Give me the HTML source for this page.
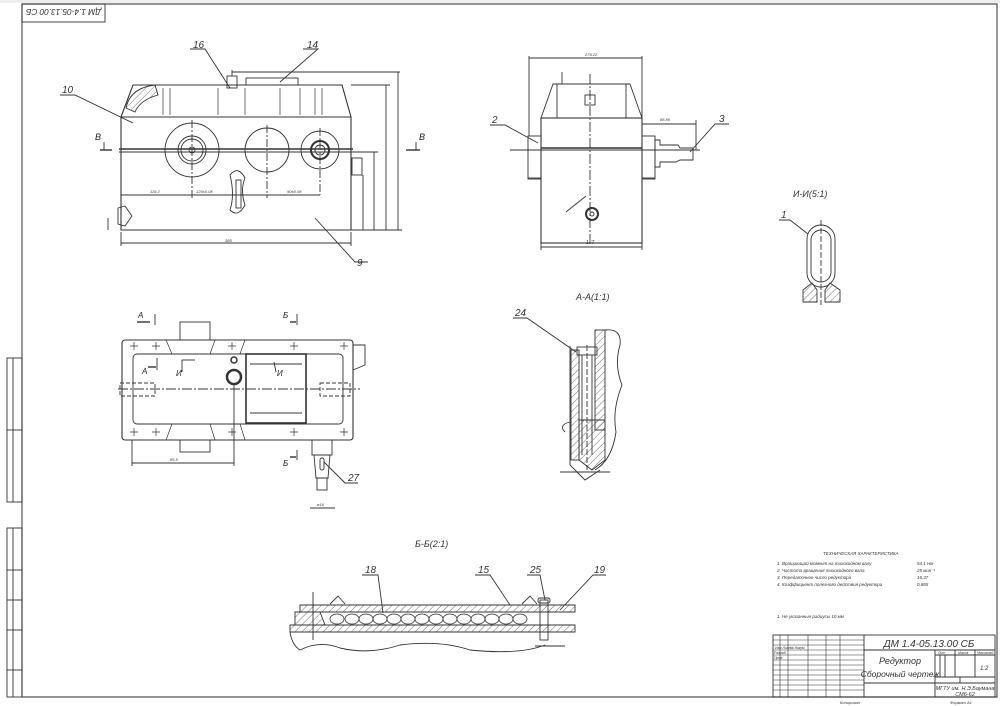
<!DOCTYPE html>
<html><head><meta charset="utf-8"><style>
html,body{margin:0;padding:0;background:#fff;}
svg{display:block;font-family:"Liberation Sans","DejaVu Sans",sans-serif;}
.t{font-style:italic;fill:#333;}
</style></head><body>
<svg width="1000" height="706" viewBox="0 0 1000 706" xmlns="http://www.w3.org/2000/svg">
<defs>
<pattern id="h" width="5" height="5" patternUnits="userSpaceOnUse" patternTransform="rotate(45)"><line x1="0" y1="0" x2="0" y2="5" stroke="#333" stroke-width="0.7"/></pattern>
</defs>
<g fill="none" stroke="#333" stroke-width="0.9">
<rect x="0" y="0" width="1000" height="3" fill="#eee" stroke="none"/>
<polyline points="22,697 22,4 997,4 997,697 22,697" stroke="#555" stroke-width="1.2"/>
<rect x="22" y="4" width="83" height="18"/>
<rect x="7" y="358" width="15" height="144"/><line x1="13" y1="358" x2="13" y2="502"/><line x1="7" y1="430" x2="22" y2="430"/>
<rect x="7" y="528" width="15" height="169"/><line x1="13" y1="528" x2="13" y2="697"/>
<line x1="7" y1="570" x2="22" y2="570"/><line x1="7" y1="600" x2="22" y2="600"/><line x1="7" y1="630" x2="22" y2="630"/><line x1="7" y1="670" x2="22" y2="670"/>

<path d="M133,85 L342,85 L351,117 L351,230 L121,230 L121,117 Z" stroke-width="1.1"/>
<line x1="121" y1="117" x2="351" y2="117"/>
<line x1="119" y1="149" x2="353" y2="149" stroke-width="1.4"/>
<line x1="119" y1="152" x2="353" y2="152"/>
<g stroke-width="0.7"><line x1="163" y1="88" x2="163" y2="115"/><line x1="170" y1="88" x2="170" y2="115"/>
<line x1="218" y1="88" x2="218" y2="115"/><line x1="245" y1="88" x2="245" y2="115"/>
<line x1="280" y1="88" x2="280" y2="115"/><line x1="300" y1="88" x2="300" y2="115"/>
<line x1="315" y1="88" x2="315" y2="115"/><line x1="322" y1="88" x2="322" y2="115"/></g>
<rect x="246" y="78" width="52" height="7"/>
<path d="M126,108 Q130,88 155,85 L158,95 Q140,100 135,112 Z" fill="url(#h)"/>
<circle cx="192" cy="150" r="27"/><circle cx="192" cy="150" r="14"/><circle cx="192" cy="150" r="11"/><circle cx="192" cy="150" r="3"/>
<circle cx="267" cy="150" r="22"/>
<circle cx="320" cy="150" r="19"/><circle cx="320" cy="150" r="9" stroke-width="2"/><circle cx="320" cy="150" r="5"/>
<line x1="192" y1="120" x2="192" y2="198" stroke-dasharray="8,2,2,2"/><line x1="267" y1="125" x2="267" y2="198" stroke-dasharray="8,2,2,2"/><line x1="320" y1="128" x2="320" y2="195" stroke-dasharray="8,2,2,2"/>
<path d="M230,175 Q238,165 245,178 Q240,190 245,205 Q238,218 230,210 Q235,195 230,175 Z"/>
<rect x="236" y="180" width="5" height="28"/>
<rect x="227" y="76" width="10" height="12"/><line x1="232" y1="70" x2="232" y2="76"/><line x1="232" y1="72" x2="400" y2="72"/>
<path d="M118,208 L125,206 L132,216 L125,226 L118,224 Z"/>
<rect x="352" y="158" width="10" height="17"/>
<line x1="121" y1="195" x2="320" y2="195"/><line x1="121" y1="243" x2="351" y2="243"/>
<line x1="121" y1="232" x2="121" y2="246"/><line x1="351" y1="232" x2="351" y2="246"/>
<line x1="351" y1="85" x2="390" y2="85"/><line x1="351" y1="230" x2="402" y2="230"/>
<line x1="398" y1="72" x2="398" y2="230"/><line x1="386" y1="85" x2="386" y2="230"/>
<line x1="374" y1="152" x2="374" y2="230"/><line x1="363" y1="175" x2="363" y2="230"/>
<line x1="353" y1="152" x2="378" y2="152"/>
<line x1="108" y1="218" x2="108" y2="230"/>
<line x1="100" y1="150" x2="112" y2="150" stroke-width="1.4"/><line x1="104" y1="142" x2="104" y2="150"/>
<line x1="406" y1="150" x2="420" y2="150" stroke-width="1.4"/><line x1="416" y1="142" x2="416" y2="150"/>
<polyline points="60,95 75,95 133,123"/><polyline points="190,49 205,49 230,88"/><polyline points="303,49 318,49 280,82"/><polyline points="315,218 355,262 368,262"/>

<path d="M541,118 L553,84 L630,84 L642,118 Z"/>
<line x1="557" y1="84" x2="557" y2="118"/><line x1="626" y1="84" x2="626" y2="118"/>
<rect x="541" y="118" width="101" height="125" stroke-width="1.1"/>
<line x1="541" y1="148" x2="642" y2="148" stroke-width="1.4"/><line x1="510" y1="150" x2="700" y2="150"/>
<line x1="590" y1="74" x2="590" y2="240" stroke-dasharray="10,2,2,2"/>
<rect x="585" y="95" width="10" height="10"/><line x1="562" y1="72" x2="562" y2="84"/>
<rect x="528" y="136" width="13" height="43"/><rect x="642" y="136" width="13" height="43"/>
<path d="M655,140 L660,140 L660,145 L678,145 L680,148 L693,148 L693,160 L680,160 L676,162 L660,162 L660,167 L655,167 Z"/>
<circle cx="592" cy="214" r="6" stroke-width="2"/><circle cx="592" cy="214" r="2"/>
<line x1="529" y1="58" x2="642" y2="58"/><line x1="529" y1="56" x2="529" y2="136"/><line x1="642" y1="56" x2="642" y2="150"/>
<line x1="642" y1="124" x2="696" y2="124"/><line x1="696" y1="120" x2="696" y2="150"/>
<line x1="541" y1="243" x2="541" y2="250"/><line x1="642" y1="243" x2="642" y2="250"/><line x1="541" y1="247" x2="642" y2="247"/>
<line x1="528" y1="178" x2="541" y2="178"/><line x1="642" y1="178" x2="655" y2="178"/>
<polyline points="490,125 505,125 538,143"/><polyline points="729,124 715,124 690,152"/>
<line x1="566" y1="212" x2="586" y2="196"/>

<rect x="807" y="225" width="28" height="62" rx="14"/><rect x="811" y="230" width="20" height="52" rx="10"/>
<line x1="821" y1="220" x2="821" y2="305" stroke-dasharray="6,2"/>
<path d="M803,290 L812,283 L817,290 L817,302 L803,302 Z" fill="url(#h)"/><path d="M825,290 L830,283 L840,290 L840,302 L825,302 Z" fill="url(#h)"/>
<polyline points="779,220 790,220 808,234"/>

<rect x="122" y="340" width="231" height="100" rx="3" stroke-width="1.1"/>
<rect x="133" y="354" width="210" height="70" rx="4"/>
<rect x="246" y="354" width="60" height="69" stroke-width="1.6"/>
<line x1="250" y1="364" x2="302" y2="364"/><line x1="250" y1="413" x2="302" y2="413"/>
<rect x="180" y="322" width="30" height="18"/><rect x="180" y="440" width="30" height="12"/>
<rect x="312" y="440" width="20" height="15"/><path d="M314,455 L330,455 L328,478 L316,478 Z"/><rect x="317" y="478" width="10" height="12"/>
<rect x="320" y="458" width="4" height="12" rx="2"/>
<circle cx="234" cy="377" r="7" stroke-width="2.5"/><circle cx="234" cy="360" r="3" stroke-width="1.5"/>
<line x1="118" y1="389" x2="360" y2="389" stroke-dasharray="10,2,2,2"/>
<rect x="120" y="383" width="35" height="13" stroke-dasharray="4,2"/><rect x="320" y="383" width="30" height="13" stroke-dasharray="4,2"/>
<g stroke-width="0.7">
<path d="M130,346h8M134,342v8M152,346h8M156,342v8M228,346h8M232,342v8M290,346h8M294,342v8M340,346h8M344,342v8"/>
<path d="M130,432h8M134,428v8M152,432h8M156,428v8M228,432h8M232,428v8M290,432h8M294,428v8M340,432h8M344,428v8"/>
<line x1="166" y1="340" x2="172" y2="354"/><line x1="215" y1="340" x2="210" y2="354"/><line x1="245" y1="340" x2="240" y2="354"/>
<line x1="166" y1="440" x2="172" y2="424"/><line x1="215" y1="440" x2="210" y2="424"/><line x1="245" y1="440" x2="240" y2="424"/>
</g>
<path d="M353,345 L365,345 L365,365 L353,370"/>
<line x1="132" y1="463" x2="234" y2="463"/><line x1="132" y1="440" x2="132" y2="466"/><line x1="234" y1="384" x2="234" y2="466"/>
<line x1="310" y1="508" x2="335" y2="508"/>
<polyline points="324,462 345,483 358,483"/>
<line x1="137" y1="322" x2="150" y2="322" stroke-width="1.4"/><line x1="155" y1="314" x2="155" y2="325"/>
<line x1="290" y1="322" x2="296" y2="322" stroke-width="1.4"/><line x1="297" y1="314" x2="297" y2="325"/>
<line x1="290" y1="457" x2="296" y2="457" stroke-width="1.4"/><line x1="297" y1="450" x2="297" y2="460"/>
<line x1="148" y1="367" x2="156" y2="367" stroke-width="1.4"/><line x1="157" y1="358" x2="157" y2="370"/>
<line x1="182" y1="360" x2="195" y2="360"/><line x1="182" y1="360" x2="182" y2="372"/>
<line x1="274" y1="362" x2="276" y2="372"/>

<path d="M570,346 L570,465 L585,480 L600,470"/>
<rect x="571" y="350" width="8" height="110" fill="url(#h)"/>
<rect x="595" y="330" width="10" height="100" fill="url(#h)"/>
<path d="M579,420 L605,420 L605,460 L592,470 L579,460 Z" fill="url(#h)"/>
<rect x="577" y="347" width="20" height="8"/><line x1="582" y1="355" x2="582" y2="455"/><line x1="592" y1="355" x2="592" y2="455"/>
<line x1="587" y1="345" x2="587" y2="470" stroke-dasharray="6,2"/>
<path d="M605,330 Q622,328 620,345 Q614,365 622,385 Q612,410 616,432 Q612,460 595,470"/>
<path d="M570,422 Q558,425 565,432"/>
<polyline points="513,318 527,318 576,352"/>
<line x1="560" y1="472" x2="610" y2="472"/>

<path d="M300,605 L575,605 L575,612 L300,612 Z" fill="url(#h)"/>
<path d="M295,612 L320,612 L325,625 L295,625 Z" fill="url(#h)"/>
<path d="M290,625 L575,625 L575,632 L290,632 Z" fill="url(#h)"/>
<path d="M330,604 L338,596 L345,604" /><path d="M522,604 L530,596 L537,604"/>
<rect x="540" y="600" width="8" height="40"/><rect x="538" y="598" width="12" height="5" rx="2"/>
<path d="M290,632 Q292,645 300,650 Q320,640 340,648 Q370,655 400,645 Q440,640 470,650 Q520,655 545,645"/>
<line x1="313" y1="592" x2="313" y2="640"/>
<line x1="535" y1="646" x2="565" y2="646"/>
<g stroke-width="0.8">
<ellipse cx="337" cy="619" rx="7" ry="5"/><ellipse cx="352" cy="619" rx="7" ry="5"/><ellipse cx="366" cy="619" rx="7" ry="5"/><ellipse cx="380" cy="619" rx="7" ry="5"/><ellipse cx="394" cy="619" rx="7" ry="5"/><ellipse cx="408" cy="619" rx="7" ry="5"/><ellipse cx="422" cy="619" rx="7" ry="5"/><ellipse cx="436" cy="619" rx="7" ry="5"/><ellipse cx="450" cy="619" rx="7" ry="5"/><ellipse cx="464" cy="619" rx="7" ry="5"/><ellipse cx="478" cy="619" rx="7" ry="5"/><ellipse cx="492" cy="619" rx="7" ry="5"/><ellipse cx="506" cy="619" rx="7" ry="5"/><ellipse cx="520" cy="619" rx="7" ry="5"/>
</g>
<polyline points="362,575 378,575 383,613"/><polyline points="475,575 490,575 510,605"/><polyline points="527,575 540,575 545,600"/><polyline points="606,575 593,575 560,610"/>

<rect x="773" y="635" width="222" height="62"/>
<line x1="864" y1="650" x2="995" y2="650"/><line x1="864" y1="635" x2="864" y2="697"/>
<g stroke-width="0.6">
<line x1="773" y1="640" x2="864" y2="640"/><line x1="773" y1="645" x2="864" y2="645"/><line x1="773" y1="650" x2="864" y2="650"/><line x1="773" y1="655" x2="864" y2="655"/><line x1="773" y1="660" x2="864" y2="660"/><line x1="773" y1="665" x2="864" y2="665"/><line x1="773" y1="670" x2="864" y2="670"/><line x1="773" y1="675" x2="864" y2="675"/><line x1="773" y1="680" x2="864" y2="680"/><line x1="773" y1="685" x2="864" y2="685"/><line x1="773" y1="690" x2="864" y2="690"/>
<line x1="780" y1="635" x2="780" y2="697"/><line x1="788" y1="635" x2="788" y2="697"/><line x1="808" y1="635" x2="808" y2="697"/><line x1="826" y1="635" x2="826" y2="697"/><line x1="840" y1="635" x2="840" y2="697"/>
</g>
<line x1="935" y1="650" x2="935" y2="697"/><line x1="864" y1="683" x2="995" y2="683"/>
<line x1="935" y1="655" x2="995" y2="655"/><line x1="955" y1="650" x2="955" y2="677"/><line x1="975" y1="650" x2="975" y2="677"/>
<line x1="935" y1="677" x2="995" y2="677"/><line x1="960" y1="677" x2="960" y2="683"/>
<line x1="940" y1="655" x2="940" y2="677"/><line x1="945" y1="655" x2="945" y2="677"/>
</g>
<g class="t">
<text x="26" y="17" font-size="8" textLength="75" lengthAdjust="spacingAndGlyphs" transform="rotate(180 63.5 13)">ДМ 1.4-05.13.00 СБ</text>
<text x="193" y="48" font-size="10">16</text><text x="307" y="48" font-size="10">14</text>
<text x="62" y="93" font-size="10">10</text><text x="357" y="266" font-size="10">9</text>
<text x="95" y="140" font-size="9" fill="#222">В</text><text x="419" y="140" font-size="9" fill="#222">В</text>
<text x="492" y="123" font-size="10">2</text><text x="719" y="122" font-size="10">3</text>
<text x="781" y="218" font-size="10">1</text><text x="793" y="197" font-size="9">И-И(5:1)</text>
<text x="576" y="300" font-size="9">А-А(1:1)</text><text x="515" y="316" font-size="10">24</text>
<text x="415" y="547" font-size="9">Б-Б(2:1)</text>
<text x="365" y="573" font-size="10">18</text><text x="478" y="573" font-size="10">15</text><text x="530" y="573" font-size="10">25</text><text x="594" y="573" font-size="10">19</text>
<text x="348" y="481" font-size="10">27</text>
<text x="138" y="318" font-size="8" fill="#222">А</text><text x="283" y="318" font-size="8" fill="#222">Б</text><text x="283" y="466" font-size="8" fill="#222">Б</text>
<text x="142" y="374" font-size="8" fill="#222">А</text><text x="176" y="376" font-size="8" fill="#222">И</text><text x="277" y="376" font-size="8" fill="#222">И</text>
<text x="585" y="56" font-size="4">279.22</text><text x="660" y="121" font-size="4">88.86</text><text x="586" y="244" font-size="5">167</text>
<text x="225" y="242" font-size="4">385</text><text x="150" y="193" font-size="4">119.2</text><text x="196" y="193" font-size="4">125±0.08</text><text x="287" y="193" font-size="4">90±0.08</text>
<text x="170" y="461" font-size="4">85.5</text><text x="317" y="506" font-size="4">ø16</text>
<text x="823" y="555" font-size="4.5">ТЕХНИЧЕСКАЯ ХАРАКТЕРИСТИКА</text>
<text x="777" y="565" font-size="4.5">1. Вращающий момент на тихоходном валу</text><text x="917" y="565" font-size="4.5">54.1 Нм</text>
<text x="777" y="572" font-size="4.5">2. Частота вращения тихоходного вала</text><text x="917" y="572" font-size="4.5">25 мин⁻¹</text>
<text x="777" y="579" font-size="4.5">3. Передаточное число редуктора</text><text x="917" y="579" font-size="4.5">16,37</text>
<text x="777" y="586" font-size="4.5">4. Коэффициент полезного действия редуктора</text><text x="917" y="586" font-size="4.5">0,885</text>
<text x="777" y="618" font-size="4.5">1. Не указанные радиусы 10 мм</text>
<text x="929" y="647" font-size="10" text-anchor="middle">ДМ 1.4-05.13.00 СБ</text>
<text x="900" y="664" font-size="9" text-anchor="middle">Редуктор</text><text x="900" y="677" font-size="8.5" text-anchor="middle">Сборочный чертеж</text>
<text x="980" y="670" font-size="6">1:2</text>
<text x="965" y="690" font-size="5.5" text-anchor="middle">МГТУ им. Н.Э.Баумана</text><text x="965" y="696" font-size="5.5" text-anchor="middle">СМ6-62</text>
<text x="775" y="649" font-size="3.5">Изм Лист</text><text x="790" y="649" font-size="3.5">№ докум.</text><text x="774" y="654" font-size="3.5">Разраб.</text><text x="774" y="659" font-size="3.5">Пров.</text>
<text x="938" y="654" font-size="3.5">Лит</text><text x="958" y="654" font-size="3.5">Масса</text><text x="977" y="654" font-size="3.5">Масштаб</text>
<text x="840" y="704" font-size="4">Копировал</text><text x="950" y="704" font-size="4">Формат A1</text>
</g>
</svg>
</body></html>
